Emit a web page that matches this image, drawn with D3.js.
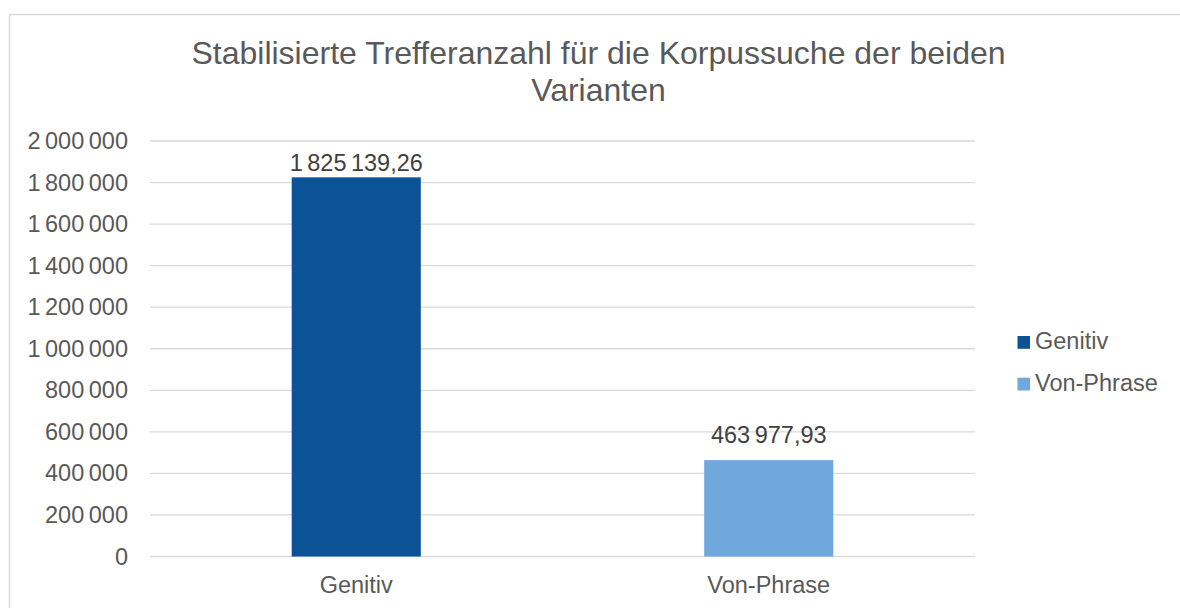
<!DOCTYPE html>
<html><head><meta charset="utf-8">
<script src="https://cdn.jsdelivr.net/npm/d3@7"></script>
<style>body{margin:0;background:#fff;}svg{display:block;font-family:"Liberation Sans",Arial,sans-serif;}</style>
</head><body><svg id="c" width="1180" height="608"></svg>
<script>
const categories = ["Genitiv", "Von-Phrase"];
const values = [1825139.26, 463977.93];
const valueLabels = ["1 825 139,26", "463 977,93"];
const yTicks = [0, 200000, 400000, 600000, 800000, 1000000, 1200000, 1400000, 1600000, 1800000, 2000000];
const colors = ["#0B5394", "#6FA8DC"];
const titleLines = ["Stabilisierte Trefferanzahl für die Korpussuche der beiden", "Varianten"];

const svg = d3.select("#c");
svg.append("rect").attr("x", 9.5).attr("y", 14.5).attr("width", 1200).attr("height", 700)
  .attr("fill", "#fff").attr("stroke", "#d9d9d9").attr("stroke-width", 1.5);

const x = d3.scaleBand().domain(categories).range([150, 975]).padding(0);
const y = d3.scaleLinear().domain([0, 2000000]).range([556.5, 141]);
const fmt = v => d3.format(",")(v).replace(/,/g, " ");
const FS = 23.5;

const g = svg.append("g");
g.selectAll("line.grid").data(yTicks).join("line").attr("class", "grid")
  .attr("x1", 150).attr("x2", 975).attr("y1", d => y(d)).attr("y2", d => y(d))
  .attr("stroke", "#d9d9d9").attr("stroke-width", 1.3);

g.selectAll("text.yt").data(yTicks).join("text").attr("class", "yt")
  .attr("x", 128).attr("y", d => y(d) + 8).attr("text-anchor", "end")
  .attr("font-size", FS).attr("word-spacing", -2).attr("fill", "#595959").text(fmt);

const bw = x.bandwidth() * 0.313;
g.selectAll("rect.bar").data(values).join("rect").attr("class", "bar")
  .attr("x", (d, i) => x(categories[i]) + x.bandwidth() / 2 - bw / 2)
  .attr("width", bw).attr("y", d => y(d)).attr("height", d => y(0) - y(d))
  .attr("fill", (d, i) => colors[i]);

g.selectAll("text.vl").data(values).join("text").attr("class", "vl")
  .attr("x", (d, i) => x(categories[i]) + x.bandwidth() / 2)
  .attr("y", d => Math.max(y(d) - 17, 171))
  .attr("text-anchor", "middle").attr("font-size", FS).attr("word-spacing", -2).attr("fill", "#404040")
  .text((d, i) => valueLabels[i]);

g.selectAll("text.xl").data(categories).join("text").attr("class", "xl")
  .attr("x", d => x(d) + x.bandwidth() / 2).attr("y", 593)
  .attr("text-anchor", "middle").attr("font-size", FS).attr("fill", "#595959").text(d => d);

svg.selectAll("text.title").data(titleLines).join("text").attr("class", "title")
  .attr("x", 598.5).attr("y", (d, i) => 64 + i * 37).attr("text-anchor", "middle")
  .attr("font-size", 32).attr("fill", "#595959").text(d => d);

const lg = svg.append("g");
categories.forEach((c, i) => {
  lg.append("rect").attr("x", 1017.5).attr("y", 336 + i * 41.7).attr("width", 12.5).attr("height", 12.8).attr("fill", colors[i]);
  lg.append("text").attr("x", 1035).attr("y", 349.3 + i * 41.7).attr("font-size", FS).attr("fill", "#595959").text(c);
});
</script></body></html>
